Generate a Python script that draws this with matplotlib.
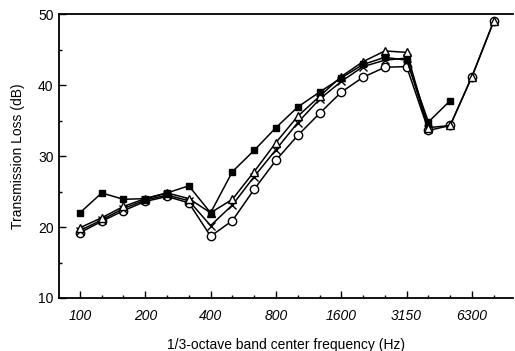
import numpy as np
import matplotlib
matplotlib.use("Agg")
from matplotlib import pyplot as plt
from matplotlib.ticker import MultipleLocator

plt.rcParams['font.family'] = ['Liberation Sans', 'DejaVu Sans']

# 1/3-octave band centres
bands = [100, 125, 160, 200, 250, 315, 400, 500, 630, 800, 1000,
         1250, 1600, 2000, 2500, 3150, 4000, 5000, 6300, 8000]
tick_labels = ['100', '200', '400', '800', '1600', '3150', '6300']
tick_bands = [100, 200, 400, 800, 1600, 3150, 6300]

square = [22.0, 24.8, 23.9, 24.0, 24.8, 25.8, 22.0, 27.8, 30.8, 34.0,
          36.9, 39.0, 41.0, 42.9, 43.9, 43.5, 34.8, 37.8]
triangle = [19.9, 21.3, 22.9, 24.0, 24.8, 24.0, 22.0, 23.9, 27.8, 31.9,
            35.6, 38.4, 41.2, 43.3, 44.8, 44.6, 34.0, 34.3, 41.2, 49.0]
cross = [19.5, 21.0, 22.6, 23.8, 24.5, 23.7, 20.2, 23.1, 27.1, 30.9,
         34.7, 38.0, 40.5, 42.6, 43.5, 43.8, 33.8]
circle = [19.2, 20.8, 22.3, 23.6, 24.3, 23.4, 18.7, 20.9, 25.3, 29.4,
          32.9, 36.0, 39.0, 41.1, 42.5, 42.6, 33.6, 34.3, 41.2, 49.0]

fig = plt.figure(figsize=(5.15, 3.51), dpi=100)
ax = fig.add_axes([0.1146, 0.151, 0.8814, 0.809])

idx = np.arange(len(bands))
lw = 1.1
ax.plot(idx[:len(circle)], circle, '-', color='black', lw=lw, marker='o',
        ms=6, mfc='white', mec='black', mew=1.0)
ax.plot(idx[:len(cross)], cross, '-', color='black', lw=lw, marker='x',
        ms=6, mec='black', mew=1.0)
ax.plot(idx[:len(triangle)], triangle, '-', color='black', lw=lw, marker='^',
        ms=6, mfc='white', mec='black', mew=1.0)
ax.plot(idx[:len(square)], square, '-', color='black', lw=lw, marker='s',
        ms=5, mfc='black', mec='black')

ax.set_xlim(-0.96, 19.88)
ax.set_ylim(10, 50)
ax.set_xticks([bands.index(b) for b in tick_bands])
ax.set_xticklabels(tick_labels, fontstyle='italic')
ax.set_xticks(idx, minor=True)
ax.yaxis.set_major_locator(MultipleLocator(10))
ax.yaxis.set_minor_locator(MultipleLocator(5))
ax.tick_params(which='both', direction='in', labelsize=10, width=1.0)
ax.tick_params(which='major', length=5)
ax.tick_params(which='minor', length=2.5)
ax.tick_params(axis='x', pad=8)
ax.tick_params(axis='y', pad=4)
ax.spines['right'].set_visible(False)
for s in ['left', 'bottom', 'top']:
    ax.spines[s].set_linewidth(1.3)

ax.set_xlabel('1/3-octave band center frequency (Hz)', fontsize=10, labelpad=11)
ax.set_ylabel('Transmission Loss (dB)', fontsize=10, labelpad=9)

fig.savefig('out.png', dpi=100)
